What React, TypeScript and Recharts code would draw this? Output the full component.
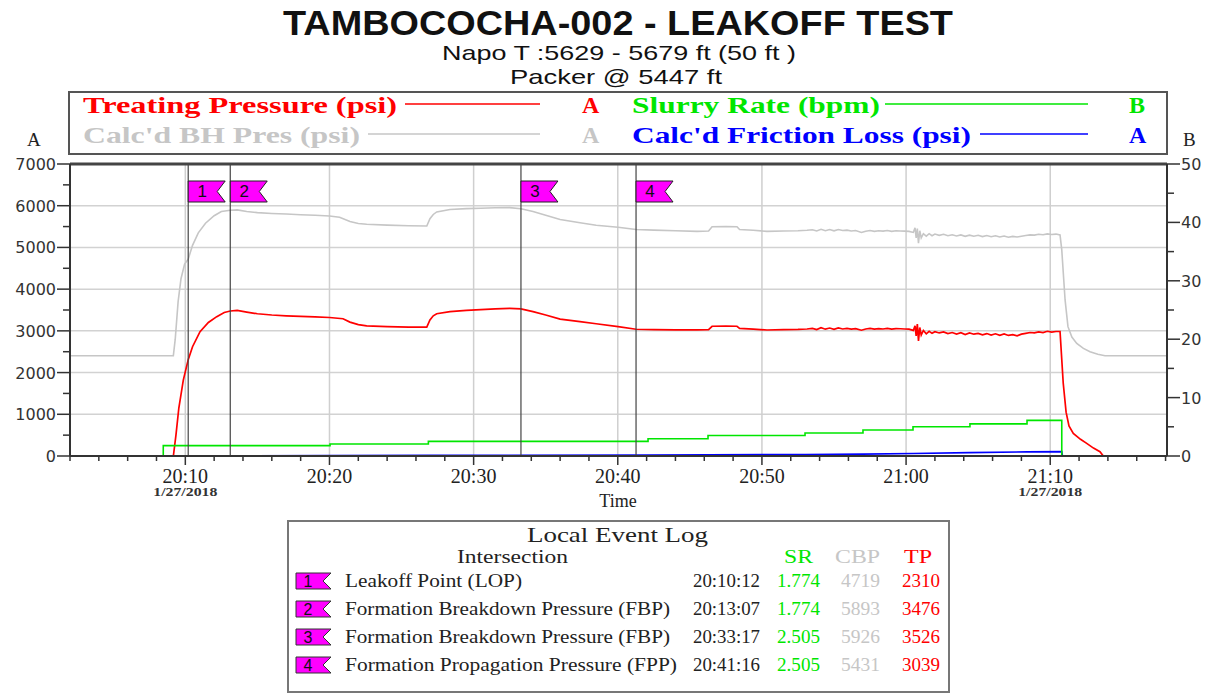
import React from 'react';
import { ComposedChart, Line, XAxis, YAxis, ReferenceLine } from 'recharts';

// time = minutes after 20:00 on 1/27/2018
const treatingPressure: [number, number][] = [
  [2, 0], [9.17, 0], [9.35, 500], [9.55, 1150], [9.86, 1820], [10.2, 2310], [10.5, 2620], [11.02, 2980],
  [11.6, 3200], [12.18, 3340], [12.7, 3440], [13.12, 3476], [13.6, 3490], [14.26, 3450], [15, 3410],
  [16, 3380], [17, 3360], [18, 3345], [19, 3335], [20, 3320], [20.94, 3290], [21.42, 3210], [22, 3150],
  [22.58, 3120], [24, 3100], [25.5, 3090], [26.75, 3090], [26.97, 3260], [27.2, 3360], [27.44, 3410],
  [28.36, 3460], [29.5, 3490], [30.5, 3510], [31.5, 3525], [32.5, 3540], [33.28, 3526], [34.12, 3460],
  [35, 3380], [36, 3280], [37.38, 3220], [38.5, 3170], [40.02, 3100], [41.27, 3039], [42.5, 3030],
  [44, 3025], [45.5, 3025], [46.3, 3030], [46.54, 3110], [47.5, 3115], [48.27, 3110], [48.45, 3060],
  [49.4, 3040], [50.35, 3020], [51.5, 3030], [52.5, 3035], [53.13, 3045],
  [53.5, 3060], [53.8, 3030], [54.1, 3075], [54.4, 3040], [54.7, 3068], [55.0, 3035], [55.3, 3072],
  [55.6, 3045], [55.9, 3060], [56.2, 3040], [56.5, 3055], [56.9, 3015], [57.2, 3045], [57.5, 3060],
  [57.8, 3040], [58.1, 3055], [58.4, 3045], [58.7, 3060], [59.0, 3040], [59.3, 3055], [59.6, 3050],
  [59.9, 3045], [60.2, 3040], [60.5, 3010], [60.62, 3120], [60.7, 2880], [60.78, 3160], [60.86, 2760],
  [60.95, 3080], [61.05, 2900], [61.2, 3010], [61.4, 2930], [61.6, 2990], [61.8, 2940], [62.0, 2980],
  [62.3, 2950], [62.6, 2975], [62.9, 2935], [63.2, 2960], [63.5, 2925], [63.8, 2955], [64.1, 2910],
  [64.4, 2950], [64.7, 2920], [65.0, 2940], [65.3, 2905], [65.6, 2935], [65.9, 2900], [66.2, 2930],
  [66.5, 2895], [66.8, 2925], [67.1, 2890], [67.4, 2910], [67.7, 2880], [68.0, 2920], [68.3, 2940],
  [68.6, 2960], [68.9, 2950], [69.2, 2975], [69.5, 2960], [69.8, 2990], [70.1, 2970], [70.4, 2985],
  [70.68, 2985], [70.9, 1750], [71.1, 1050], [71.3, 720], [71.6, 543], [72.1, 400], [72.53, 303],
  [73.0, 190], [73.45, 104], [73.68, 0], [78.1, 0],
];

const bhPressure: [number, number][] = [
  [2, 2405], [9.17, 2405], [9.3, 2800], [9.5, 3700], [9.7, 4250], [9.95, 4600], [10.2, 4719], [10.5, 5050],
  [10.9, 5350], [11.4, 5580], [12, 5760], [12.5, 5860], [13.12, 5893], [13.6, 5900], [14.26, 5860],
  [15, 5835], [16, 5815], [17, 5800], [18, 5785], [19, 5770], [20, 5755], [20.7, 5723], [21.42, 5620],
  [22, 5575], [22.58, 5556], [24, 5535], [25.5, 5520], [26.75, 5515], [26.97, 5690], [27.2, 5790],
  [27.44, 5850], [28.36, 5910], [29.5, 5930], [30.5, 5940], [31.5, 5950], [32.5, 5955], [33.28, 5926],
  [34.12, 5860], [35, 5770], [36, 5670], [37.38, 5590], [38.5, 5530], [40.02, 5484], [41.27, 5431],
  [42.5, 5415], [44, 5400], [45.5, 5385], [46.3, 5395], [46.54, 5495], [47.5, 5500], [48.27, 5495],
  [48.45, 5430], [49.4, 5410], [50.35, 5385], [51.5, 5395], [52.5, 5400], [53.13, 5410],
  [53.5, 5425], [53.8, 5395], [54.1, 5435], [54.4, 5400], [54.7, 5428], [55.0, 5398], [55.3, 5430],
  [55.6, 5405], [55.9, 5415], [56.2, 5395], [56.5, 5405], [56.9, 5360], [57.2, 5390], [57.5, 5405],
  [57.8, 5385], [58.1, 5400], [58.4, 5390], [58.7, 5405], [59.0, 5385], [59.3, 5400], [59.6, 5395],
  [59.9, 5390], [60.2, 5385], [60.5, 5360], [60.62, 5470], [60.7, 5230], [60.78, 5450], [60.86, 5100],
  [60.95, 5400], [61.05, 5230], [61.2, 5330], [61.4, 5270], [61.6, 5330], [61.8, 5280], [62.0, 5320],
  [62.3, 5290], [62.6, 5315], [62.9, 5280], [63.2, 5305], [63.5, 5275], [63.8, 5300], [64.1, 5265],
  [64.4, 5295], [64.7, 5270], [65.0, 5290], [65.3, 5260], [65.6, 5285], [65.9, 5255], [66.2, 5280],
  [66.5, 5250], [66.8, 5275], [67.1, 5245], [67.4, 5265], [67.7, 5250], [68.0, 5270], [68.3, 5285],
  [68.6, 5300], [68.9, 5295], [69.2, 5315], [69.5, 5305], [69.8, 5325], [70.1, 5310], [70.4, 5320],
  [70.68, 5300], [70.8, 4940], [71.03, 3741], [71.23, 3100], [71.5, 2850], [71.84, 2700], [72.3, 2580],
  [72.76, 2500], [73.3, 2440], [73.8, 2405], [78.1, 2405],
];

const slurryRate: [number, number][] = [
  [2, 0], [8.47, 1.774], [20.04, 2.05], [26.86, 2.505], [42.1, 2.95], [46.26, 3.5], [52.99, 3.95],
  [57.01, 4.45], [60.48, 5.0], [64.43, 5.5], [68.39, 6.1], [70.8, 0], [78.1, 0],
];

const frictionLoss: [number, number][] = [
  [2, 0], [8.47, 0], [8.5, 5], [20, 8], [27, 15], [42, 20], [46.3, 28], [53, 35], [57, 45],
  [60.5, 60], [64.4, 80], [68.4, 100], [70.8, 105], [70.85, 0], [78.1, 0],
];

const xTicks = [2, 4, 6, 8, 10, 12, 14, 16, 18, 20, 22, 24, 26, 28, 30, 32, 34, 36, 38, 40, 42, 44, 46, 48,
  50, 52, 54, 56, 58, 60, 62, 64, 66, 68, 70, 72, 74, 76, 78];
const majorTimes = [10, 20, 30, 40, 50, 60, 70];
const majorTimeLabels = ['20:10', '20:20', '20:30', '20:40', '20:50', '21:00', '21:10'];
const dateLabelTimes = [10, 70];
const leftTicks = [0, 500, 1000, 1500, 2000, 2500, 3000, 3500, 4000, 4500, 5000, 5500, 6000, 6500, 7000];
const leftGrid = [1000, 2000, 3000, 4000, 5000, 6000];
const rightTicks = [0, 5, 10, 15, 20, 25, 30, 35, 40, 45, 50];

const eventTimes = [10.2, 13.117, 33.283, 41.267];
const eventNames = ['Leakoff Point  (LOP)', 'Formation Breakdown Pressure (FBP)', 'Formation Breakdown Pressure (FBP)', 'Formation Propagation Pressure (FPP)'];
const eventClock = ['20:10:12', '20:13:07', '20:33:17', '20:41:16'];
const eventSR = ['1.774', '1.774', '2.505', '2.505'];
const eventCBP = ['4719', '5893', '5926', '5431'];
const eventTP = ['2310', '3476', '3526', '3039'];

const toRows = (pts: [number, number][]) => pts.map(([t, v]) => ({ t, v }));

const RED = '#ff0000';
const GRAY = '#c6c6c6';
const GREEN = '#00e600';
const BLUE = '#0000ff';
const SERIF = '"Liberation Serif", "Times New Roman", serif';
const SANS = '"Liberation Sans", Arial, sans-serif';
const TICKFONT = '"DejaVu Sans", Verdana, sans-serif';

const XTick = (props: any) => {
  const { x, y, payload } = props;
  const v = payload.value;
  const idx = majorTimes.indexOf(v);
  const major = idx >= 0;
  return (
    <g>
      <line x1={x} x2={x} y1={y} y2={y + (major ? 9 : 5)} stroke="#333" strokeWidth={1.5} />
      {major && (
        <text x={x} y={y + 27} textAnchor="middle" fontFamily={SERIF} fontSize={20} fill="#222">
          {majorTimeLabels[idx]}
        </text>
      )}
      {dateLabelTimes.indexOf(v) >= 0 && (
        <text x={x - 32} y={y + 40} fontFamily={SERIF} fontSize={12} fontWeight="bold" fill="#333" textLength={64} lengthAdjust="spacingAndGlyphs">
          1/27/2018
        </text>
      )}
    </g>
  );
};

const LeftTick = (props: any) => {
  const { x, y, payload } = props;
  const v = payload.value;
  const major = v % 1000 === 0;
  return (
    <g>
      <line x1={x - (major ? 13 : 7)} x2={x} y1={y} y2={y} stroke="#333" strokeWidth={1.5} />
      {major && (
        <text x={x - 14} y={y + 6} textAnchor="end" fontFamily={TICKFONT} fontSize={16} fill="#333">
          {v}
        </text>
      )}
    </g>
  );
};

const RightTick = (props: any) => {
  const { x, y, payload } = props;
  const v = payload.value;
  const major = v % 10 === 0;
  return (
    <g>
      <line x1={x} x2={x + (major ? 13 : 7)} y1={y} y2={y} stroke="#333" strokeWidth={1.5} />
      {major && (
        <text x={x + 14} y={y + 6} textAnchor="start" fontFamily={TICKFONT} fontSize={16} fill="#333">
          {v}
        </text>
      )}
    </g>
  );
};

const flagLabel = (n: number) => (props: any) => {
  const vb = props.viewBox || {};
  const x = vb.x;
  const top = Math.min(vb.y, vb.y + (vb.height || 0));
  const y0 = top + 17;
  const y1 = top + 38;
  return (
    <g>
      <polygon
        points={`${x},${y0} ${x + 37},${y0} ${x + 29},${(y0 + y1) / 2} ${x + 37},${y1} ${x},${y1}`}
        fill="#ff00ff"
        stroke="#222"
        strokeWidth={1}
      />
      <text x={x + 14} y={y1 - 5} textAnchor="middle" fontFamily={SANS} fontSize={17} fill="#111">
        {n}
      </text>
    </g>
  );
};

const SmallFlag = ({ x, y, n }: { x: number; y: number; n: number }) => (
  <g>
    <polygon
      points={`${x},${y} ${x + 35},${y} ${x + 27},${y + 8} ${x + 35},${y + 16} ${x},${y + 16}`}
      fill="#ff00ff"
      stroke="#333"
      strokeWidth={1}
    />
    <text x={x + 12} y={y + 14} textAnchor="middle" fontFamily={SANS} fontSize={16} fill="#111">
      {n}
    </text>
  </g>
);

const Overlay = () => {
  const rowBase = [587, 615, 643, 671];
  const nameLen = [177, 325, 325, 332];
  return (
    <svg width={1219} height={693} style={{ position: 'absolute', left: 0, top: 0, pointerEvents: 'none' }}>
      <text x={283} y={35} fontFamily={SANS} fontWeight="bold" fontSize={35} fill="#111" textLength={670} lengthAdjust="spacingAndGlyphs">
        TAMBOCOCHA-002 - LEAKOFF TEST
      </text>
      <text x={442} y={60} fontFamily={SANS} fontSize={21} fill="#111" textLength={354} lengthAdjust="spacingAndGlyphs">
        Napo T :5629 - 5679 ft (50 ft )
      </text>
      <text x={510} y={84} fontFamily={SANS} fontSize={21} fill="#111" textLength={212} lengthAdjust="spacingAndGlyphs">
        Packer @ 5447 ft
      </text>

      <rect x={69} y={92} width={1098} height={62} fill="#fff" stroke="#555" strokeWidth={2} />
      <text x={83} y={113} fontFamily={SERIF} fontWeight="bold" fontSize={24} fill={RED} textLength={314} lengthAdjust="spacingAndGlyphs">
        Treating Pressure (psi)
      </text>
      <line x1={405} x2={540} y1={104} y2={104} stroke={RED} strokeWidth={1.5} />
      <text x={582} y={113} fontFamily={SERIF} fontWeight="bold" fontSize={24} fill={RED}>A</text>
      <text x={632} y={113} fontFamily={SERIF} fontWeight="bold" fontSize={24} fill={GREEN} textLength={248} lengthAdjust="spacingAndGlyphs">
        Slurry Rate (bpm)
      </text>
      <line x1={885} x2={1088} y1={104} y2={104} stroke={GREEN} strokeWidth={1.5} />
      <text x={1129} y={113} fontFamily={SERIF} fontWeight="bold" fontSize={24} fill={GREEN}>B</text>

      <text x={83} y={143} fontFamily={SERIF} fontWeight="bold" fontSize={24} fill={GRAY} textLength={277} lengthAdjust="spacingAndGlyphs">
        Calc'd BH Pres (psi)
      </text>
      <line x1={368} x2={540} y1={134} y2={134} stroke={GRAY} strokeWidth={1.5} />
      <text x={582} y={143} fontFamily={SERIF} fontWeight="bold" fontSize={24} fill={GRAY}>A</text>
      <text x={632} y={143} fontFamily={SERIF} fontWeight="bold" fontSize={24} fill={BLUE} textLength={339} lengthAdjust="spacingAndGlyphs">
        Calc'd Friction Loss (psi)
      </text>
      <line x1={980} x2={1088} y1={134} y2={134} stroke={BLUE} strokeWidth={1.5} />
      <text x={1129} y={143} fontFamily={SERIF} fontWeight="bold" fontSize={24} fill={BLUE}>A</text>

      <text x={27} y={146} fontFamily={SERIF} fontSize={19} fill="#222">A</text>
      <text x={1183} y={146} fontFamily={SERIF} fontSize={19} fill="#222">B</text>

      <text x={618} y={507} textAnchor="middle" fontFamily={SERIF} fontSize={18} fill="#222">Time</text>

      <rect x={288} y={521} width={661} height={171} fill="#fff" stroke="#777" strokeWidth={2} />
      <text x={527} y={542} fontFamily={SERIF} fontSize={22} fill="#222" textLength={181} lengthAdjust="spacingAndGlyphs">
        Local Event Log
      </text>
      <text x={457} y={563} fontFamily={SERIF} fontSize={18} fill="#222" textLength={111} lengthAdjust="spacingAndGlyphs">
        Intersection
      </text>
      <text x={784} y={563} fontFamily={SERIF} fontSize={18} fill={GREEN} textLength={29} lengthAdjust="spacingAndGlyphs">SR</text>
      <text x={835} y={563} fontFamily={SERIF} fontSize={18} fill={GRAY} textLength={45} lengthAdjust="spacingAndGlyphs">CBP</text>
      <text x={904} y={563} fontFamily={SERIF} fontSize={18} fill={RED} textLength={28} lengthAdjust="spacingAndGlyphs">TP</text>
      {rowBase.map((b, i) => (
        <g key={i}>
          <SmallFlag x={296} y={b - 14} n={i + 1} />
          <text x={345} y={b} fontFamily={SERIF} fontSize={18} fill="#222" textLength={nameLen[i]} lengthAdjust="spacingAndGlyphs">
            {eventNames[i]}
          </text>
          <text x={693} y={b} fontFamily={SERIF} fontSize={18} fill="#222" textLength={67} lengthAdjust="spacingAndGlyphs">
            {eventClock[i]}
          </text>
          <text x={777} y={b} fontFamily={SERIF} fontSize={18} fill={GREEN} textLength={43} lengthAdjust="spacingAndGlyphs">
            {eventSR[i]}
          </text>
          <text x={841} y={b} fontFamily={SERIF} fontSize={18} fill={GRAY} textLength={39} lengthAdjust="spacingAndGlyphs">
            {eventCBP[i]}
          </text>
          <text x={902} y={b} fontFamily={SERIF} fontSize={18} fill={RED} textLength={38} lengthAdjust="spacingAndGlyphs">
            {eventTP[i]}
          </text>
        </g>
      ))}
    </svg>
  );
};

export default function App() {
  return (
    <div style={{ position: 'absolute', left: 0, top: 0, width: 1219, height: 693, background: '#fff', overflow: 'hidden' }}>
      <ComposedChart width={1219} height={693} margin={{ top: 164, right: 0, bottom: 207, left: 0 }}>
        <XAxis
          dataKey="t"
          type="number"
          domain={[2, 78.1]}
          allowDataOverflow
          ticks={xTicks}
          interval={0}
          tick={<XTick />}
          tickLine={false}
          tickSize={0}
          tickMargin={0}
          axisLine={{ stroke: '#333', strokeWidth: 2 }}
          height={30}
        />
        <YAxis
          yAxisId="A"
          orientation="left"
          type="number"
          domain={[0, 7000]}
          allowDataOverflow
          ticks={leftTicks}
          interval={0}
          tick={<LeftTick />}
          tickLine={false}
          tickSize={0}
          tickMargin={0}
          axisLine={{ stroke: '#333', strokeWidth: 2 }}
          width={70}
        />
        <YAxis
          yAxisId="B"
          orientation="right"
          type="number"
          domain={[0, 50]}
          allowDataOverflow
          ticks={rightTicks}
          interval={0}
          tick={<RightTick />}
          tickLine={false}
          tickSize={0}
          tickMargin={0}
          axisLine={{ stroke: '#333', strokeWidth: 2 }}
          width={52}
        />
        {leftGrid.map((v) => (
          <ReferenceLine key={'h' + v} yAxisId="A" y={v} stroke="#d2d2d2" strokeWidth={1.5} />
        ))}
        {majorTimes.map((t) => (
          <ReferenceLine key={'v' + t} yAxisId="A" x={t} stroke="#cfcfcf" strokeWidth={1.5} />
        ))}
        <ReferenceLine yAxisId="A" y={7000} stroke="#444" strokeWidth={3} />
        <Line data={toRows(bhPressure)} dataKey="v" yAxisId="A" type="linear" stroke={GRAY} strokeWidth={1.6} dot={false} isAnimationActive={false} />
        <Line data={toRows(treatingPressure)} dataKey="v" yAxisId="A" type="linear" stroke={RED} strokeWidth={1.7} dot={false} isAnimationActive={false} />
        <Line data={toRows(frictionLoss)} dataKey="v" yAxisId="A" type="linear" stroke={BLUE} strokeWidth={1.6} dot={false} isAnimationActive={false} />
        <Line data={toRows(slurryRate)} dataKey="v" yAxisId="B" type="stepAfter" stroke={GREEN} strokeWidth={1.6} dot={false} isAnimationActive={false} />
        {eventTimes.map((t, i) => (
          <ReferenceLine key={'e' + i} yAxisId="A" x={t} stroke="#444" strokeWidth={1.2} label={flagLabel(i + 1)} />
        ))}
      </ComposedChart>
      <Overlay />
    </div>
  );
}
